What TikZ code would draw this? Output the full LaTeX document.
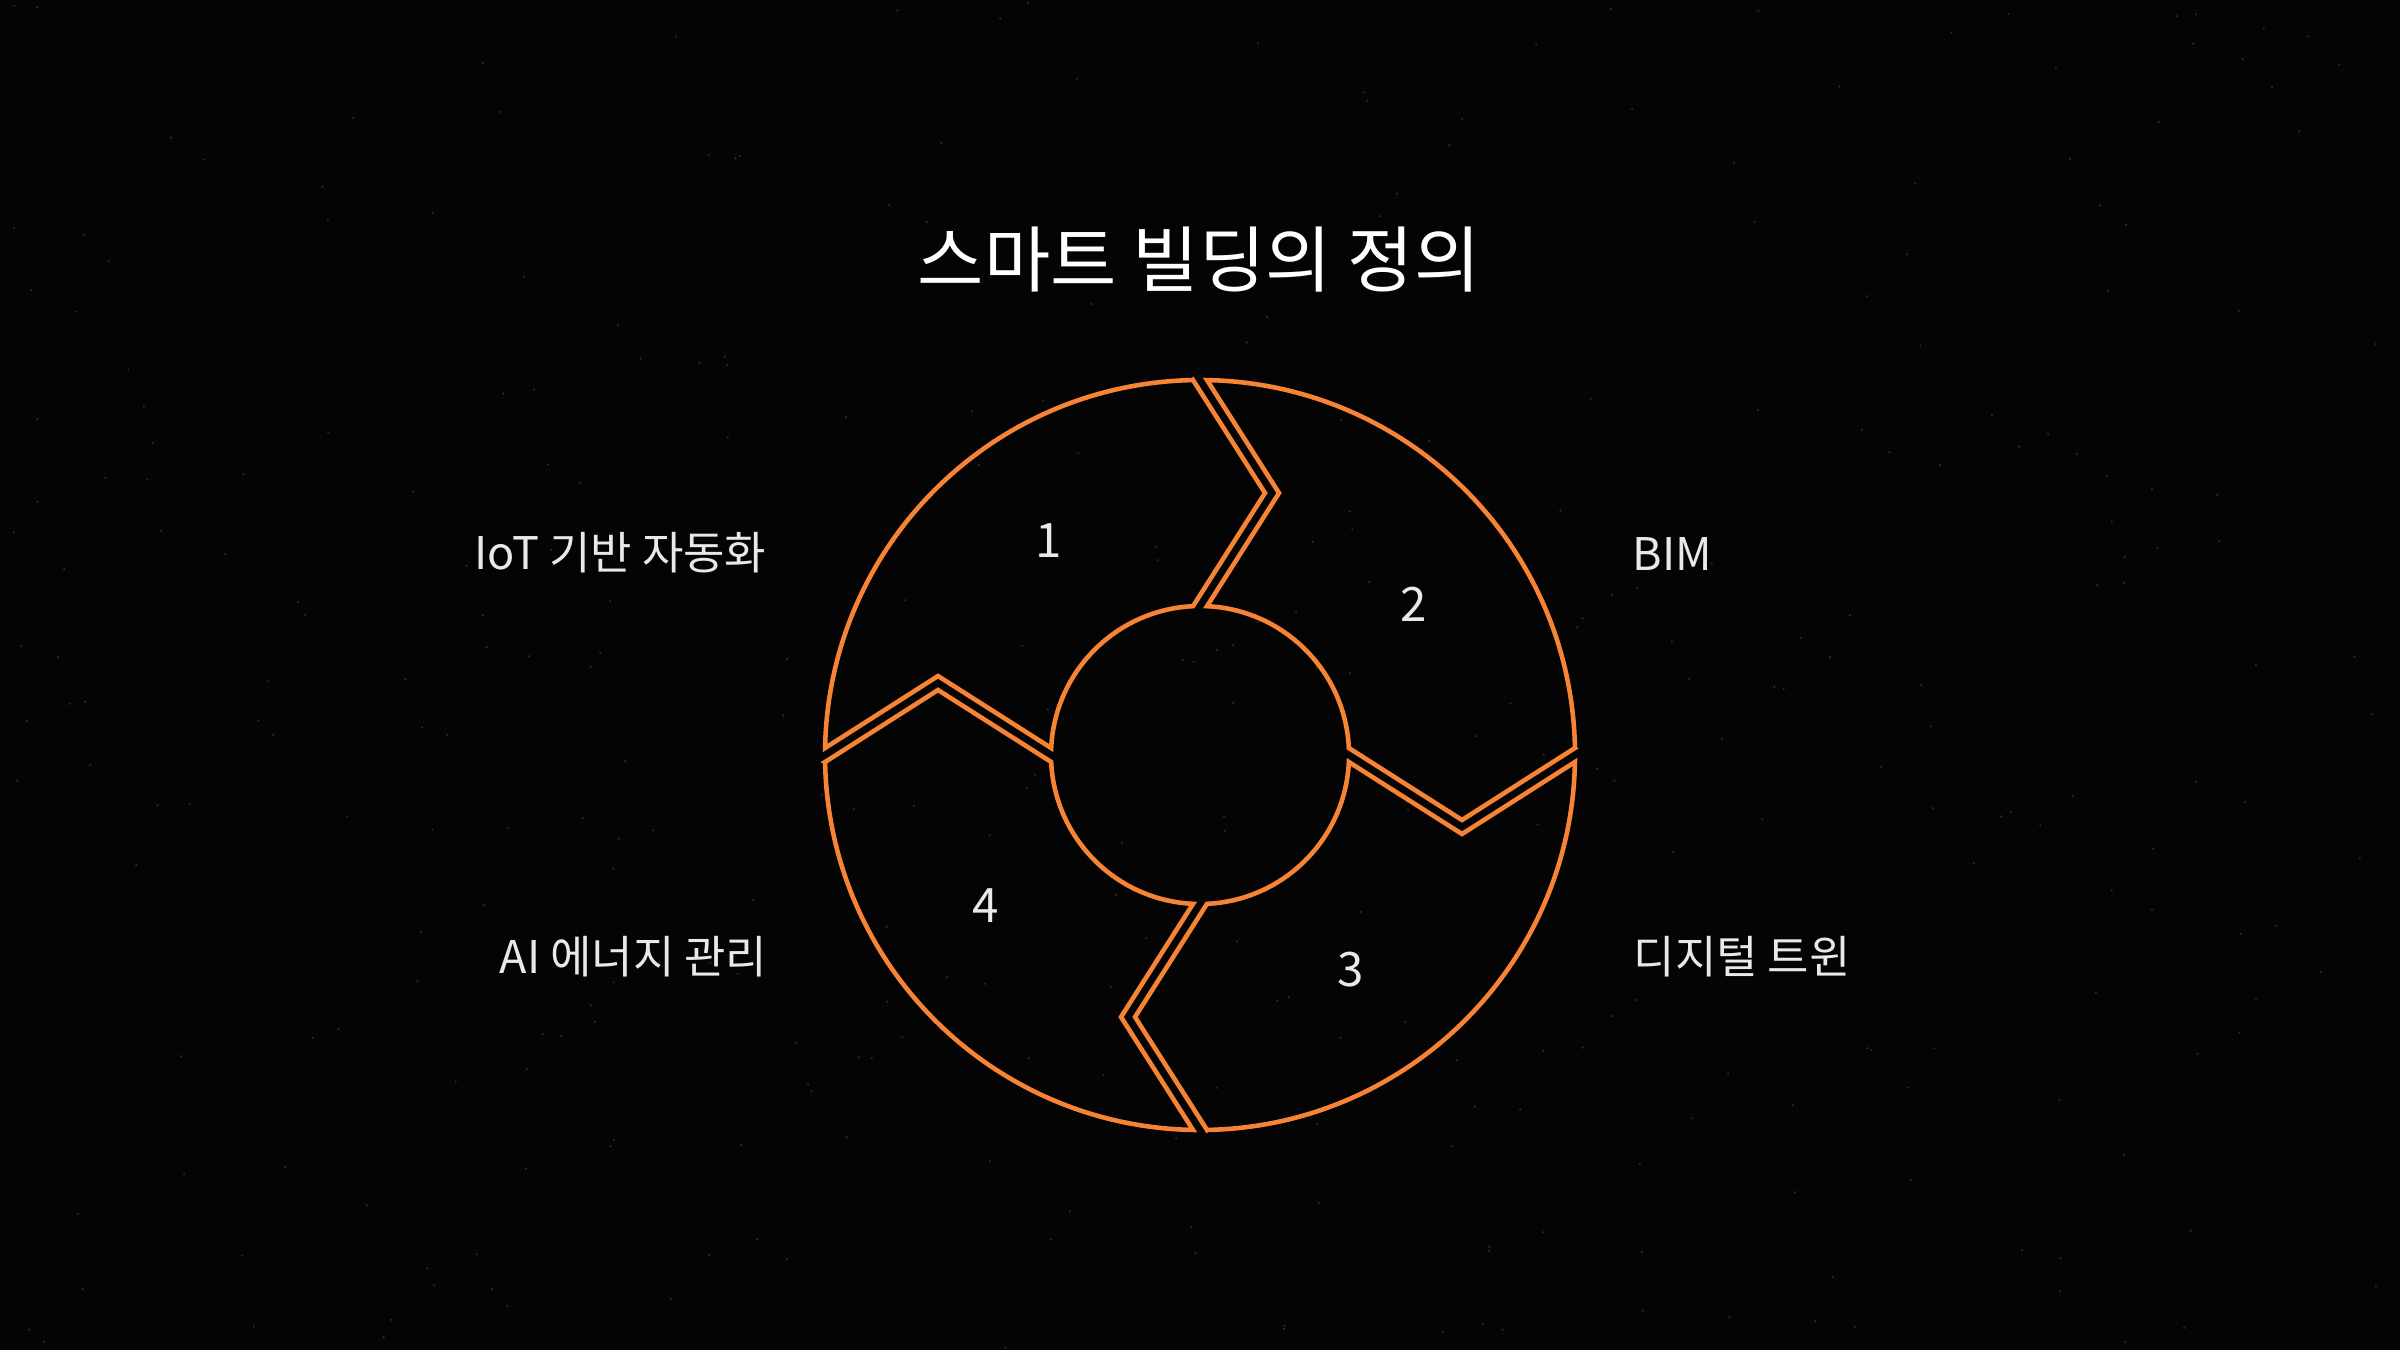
\documentclass[tikz,border=0pt]{standalone}
\usepackage{fontspec}
\setmainfont{Noto Sans CJK KR}
\usetikzlibrary{calc}
\definecolor{ringorange}{RGB}{246,132,52}
\definecolor{labelgray}{RGB}{236,232,232}
\definecolor{bgblack}{RGB}{4,4,4}
\tikzset{
  segline/.style={draw=ringorange, line width=1.3pt, line join=miter},
  sidelabel/.style={text=labelgray, font=\fontsize{12.8}{14}\selectfont, inner sep=0pt},
  numlabel/.style={text=labelgray, font=\fontsize{13.5}{15}\selectfont, inner sep=0pt}
}
\begin{document}
\begin{tikzpicture}
\fill[bgblack] (0,0) rectangle (24,13.5);
\useasboundingbox (0,0) rectangle (24,13.5);
% faint specks
\pgfmathsetseed{11}
\foreach \i in {1,...,350}{
  \fill[white, opacity=0.14] ({24*rnd},{13.5*rnd}) circle (0.013);
}
\coordinate (O) at (12,5.95);
\node[text=white, font=\fontsize{20.5}{22}\selectfont, inner sep=0pt] (title) at (11.99,10.9) {스마트 빌딩의 정의};
% the four ring segments
\foreach \k in {0,1,2,3}{
  \begin{scope}[shift={(O)}, rotate=-90*\k]
    \draw[segline] (91.07:3.75) -- (0.65,2.62) -- (92.69:1.49)
      arc[start angle=92.69, end angle=177.31, radius=1.49]
      -- (-2.62,0.79) -- (178.93:3.75)
      arc[start angle=178.93, end angle=91.07, radius=3.75] -- cycle;
  \end{scope}
  \pgfmathtruncatemacro{\num}{\k+1}
  \node[numlabel] (num\num) at ($(O)+({125.2-90*\k}:2.62)$) {\num};
}
\node[sidelabel, anchor=east] (lblIoT) at (7.67,7.97) {IoT 기반 자동화};
\node[sidelabel, anchor=east] (lblAI) at (7.68,3.93) {AI 에너지 관리};
\node[sidelabel, anchor=west] (lblBIM) at (16.32,7.96) {BIM};
\node[sidelabel, anchor=west] (lblTwin) at (16.33,3.93) {디지털 트윈};
\end{tikzpicture}
\end{document}
